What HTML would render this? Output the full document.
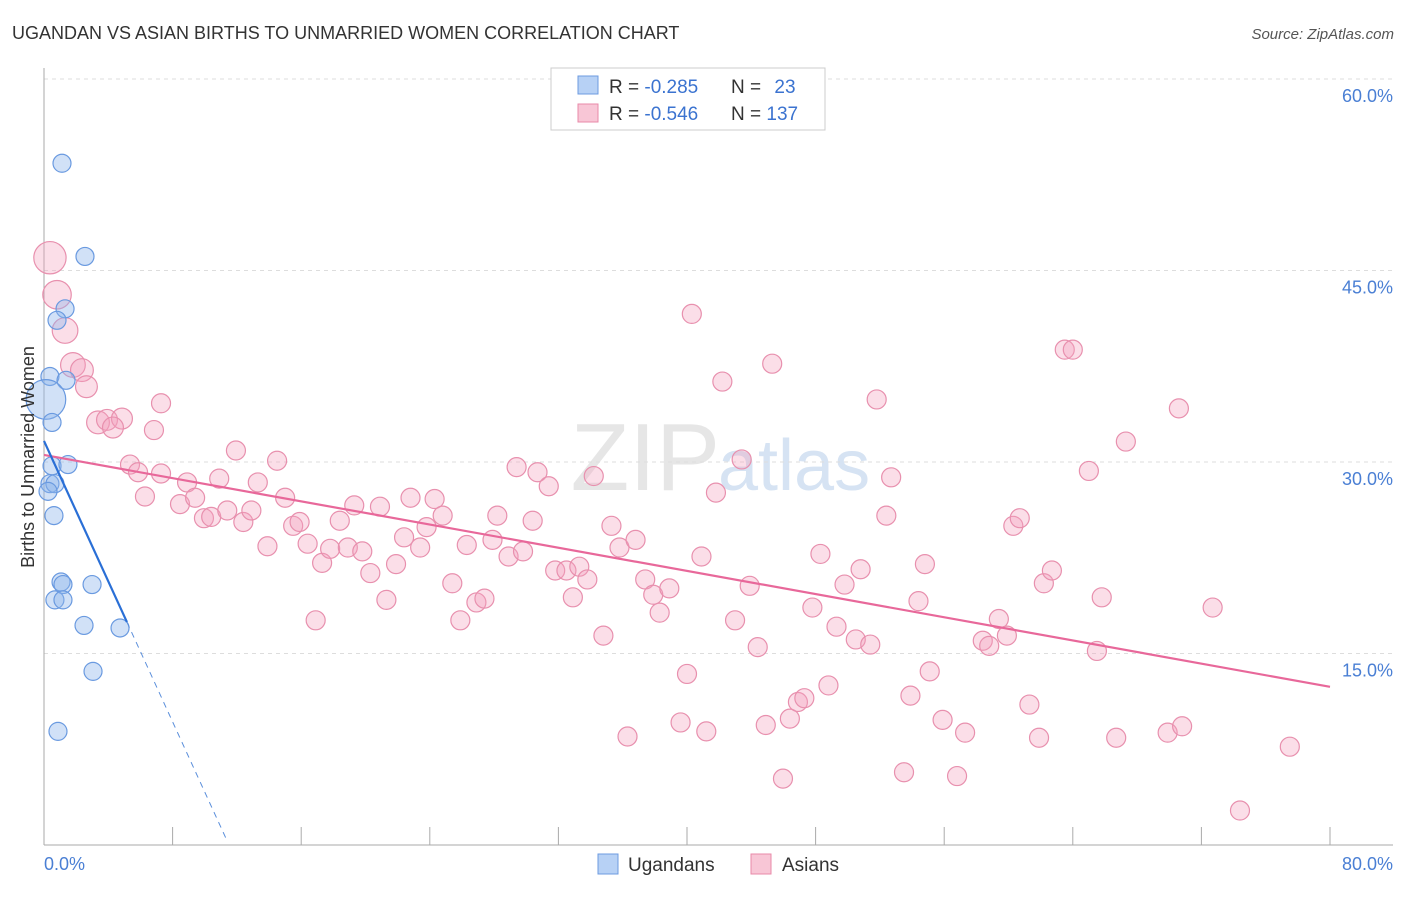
<!DOCTYPE html>
<html><head><meta charset="utf-8"><style>
body{margin:0;background:#fff;font-family:"Liberation Sans",sans-serif;}
svg text{font-family:"Liberation Sans",sans-serif;}
</style></head><body>
<svg id="chart" width="1406" height="892" viewBox="0 0 1406 892">
<text x="12" y="39" font-size="18" fill="#333">UGANDAN VS ASIAN BIRTHS TO UNMARRIED WOMEN CORRELATION CHART</text>
<text x="1394" y="39" font-size="15" fill="#555" font-style="italic" text-anchor="end">Source: ZipAtlas.com</text>
<text x="720" y="490" font-size="96" fill="#e6e6e6" text-anchor="end" font-family="Liberation Serif">ZIP</text>
<text x="718" y="490" font-size="72" fill="#d6e3f3">atlas</text>
<g id="grid"></g><g id="axes"></g><g id="pts"></g><g id="lines"></g>
<text transform="translate(34,457) rotate(-90)" font-size="18" fill="#333" text-anchor="middle">Births to Unmarried Women</text>
<text x="44" y="870" font-size="18" fill="#4a7fd4">0.0%</text>
<text x="1393" y="870" font-size="18" fill="#4a7fd4" text-anchor="end">80.0%</text>
<g>
<rect x="551" y="68" width="274" height="62" fill="#fff" stroke="#ccc"/>
<rect x="578" y="76" width="20" height="18" fill="#b7d1f5" stroke="#6c9be0"/>
<rect x="578" y="104" width="20" height="18" fill="#f8c6d6" stroke="#e88aa8"/>
<text x="609" y="93" font-size="19" fill="#333">R = <tspan fill="#3b73d0">-0.285</tspan></text>
<text x="731" y="93" font-size="19" fill="#333">N = <tspan fill="#3b73d0" dx="8">23</tspan></text>
<text x="609" y="120" font-size="19" fill="#333">R = <tspan fill="#3b73d0">-0.546</tspan></text>
<text x="731" y="120" font-size="19" fill="#333">N = <tspan fill="#3b73d0">137</tspan></text>
</g>
<g>
<rect x="598" y="854" width="20" height="20" fill="#b7d1f5" stroke="#6c9be0"/>
<text x="628" y="871" font-size="19" fill="#333">Ugandans</text>
<rect x="751" y="854" width="20" height="20" fill="#f8c6d6" stroke="#e88aa8"/>
<text x="782" y="871" font-size="19" fill="#333">Asians</text>
</g>
</svg>
<script>
const yTicks=[15,30,45,60];
const yTickLabels=["15.0%","30.0%","45.0%","60.0%"];
const xTicks=[8,16,24,32,40,48,56,64,72,80];
const ugX=[1.12,2.55,1.31,0.81,0.37,1.37,0.12,0.5,0.5,1.49,0.37,0.68,0.25,0.62,1.06,1.18,2.99,0.68,1.18,2.49,4.73,3.05,0.87];
const ugY=[53.4,46.1,42.0,41.1,36.7,36.4,34.9,33.1,29.7,29.8,28.3,28.3,27.7,25.8,20.6,20.4,20.4,19.2,19.2,17.2,17.0,13.6,8.9];
const ugR=[1,1,1,1,1,1,2,1,1,1,1,1,1,1,1,1,1,1,1,1,1,1,1];
const asX=[0.37,0.81,1.31,1.8,2.36,2.64,7.28,3.36,3.92,4.85,4.29,6.84,11.94,5.35,5.85,7.28,14.5,6.28,8.9,10.9,13.3,8.46,9.4,9.95,10.4,11.4,12.4,12.9,15.0,13.9,15.5,15.9,16.4,17.3,17.8,16.9,18.4,19.3,18.9,19.8,20.3,20.9,21.3,21.9,22.4,22.8,23.4,23.8,24.3,24.8,25.4,25.9,26.3,26.9,27.4,27.9,28.2,28.9,29.4,29.8,30.4,30.7,31.4,31.8,32.5,32.9,33.3,33.8,34.2,34.8,35.3,35.8,36.3,36.8,37.4,37.9,38.3,38.9,39.6,40.0,40.3,40.9,41.2,41.8,42.2,42.99,43.4,43.9,44.4,44.9,45.3,45.97,46.4,46.9,47.3,47.8,48.3,48.8,49.3,49.8,50.5,50.8,51.4,51.8,52.4,52.7,53.5,53.9,54.4,54.8,55.1,55.9,56.8,57.3,58.4,58.8,59.4,59.9,60.3,60.7,61.3,61.9,62.2,62.7,63.5,64.0,65.0,65.5,65.8,66.7,67.3,69.9,70.6,70.8,72.7,74.4,77.5];
const asY=[46.0,43.1,40.3,37.6,37.2,35.9,34.6,33.1,33.3,33.4,32.7,32.5,30.9,29.8,29.2,29.1,30.1,27.3,28.4,28.7,28.4,26.7,27.2,25.6,25.7,26.2,25.3,26.2,27.2,23.4,25.0,25.3,23.6,22.1,23.2,17.6,25.4,26.6,23.3,23.0,21.3,26.5,19.2,22.0,24.1,27.2,23.3,24.9,27.1,25.8,20.5,17.6,23.5,19.0,19.3,23.9,25.8,22.6,29.6,23.0,25.4,29.2,28.1,21.5,21.5,19.4,21.8,20.8,28.9,16.4,25.0,23.3,8.5,23.9,20.8,19.6,18.2,20.1,9.6,13.4,41.6,22.6,8.9,27.6,36.3,17.6,30.2,20.3,15.5,9.4,37.7,5.2,9.9,11.2,11.5,18.6,22.8,12.5,17.1,20.4,16.1,21.6,15.7,34.9,25.8,28.8,5.7,11.7,19.1,22.0,13.6,9.8,5.4,8.8,16.0,15.6,17.7,16.4,25.0,25.6,11.0,8.4,20.5,21.5,38.8,38.8,29.3,15.2,19.4,8.4,31.6,8.8,34.2,9.3,18.6,2.7,7.7];
const asBig=[1.7,1.5,1.35,1.3,1.2,1.15,1,1.2,1.1,1.1,1.1];
const ugTrend=[31.65,-2.75];
const asTrend=[30.55,-0.227];
const ugSolidEnd=5.16, ugDashEnd=11.3;

const NS="http://www.w3.org/2000/svg";
const X0=44,X1=1330,Y0=845,PXPER=191.5/15;
function sx(v){return X0+(v/80)*(X1-X0);}
function sy(v){return Y0-v*PXPER;}
function mk(p,tag,a){const e=document.createElementNS(NS,tag);for(const k in a)e.setAttribute(k,a[k]);p.appendChild(e);return e;}
const grid=document.getElementById('grid'),axes=document.getElementById('axes'),pts=document.getElementById('pts'),lines=document.getElementById('lines');
yTicks.forEach((t,i)=>{
 const l=mk(grid,'line',{x1:X0,x2:1393,y1:sy(t),y2:sy(t),stroke:'#ddd','stroke-dasharray':'4,4'});
 
 
 const tx=mk(grid,'text',{x:1393,y:sy(t)+23,'font-size':18,fill:'#4a7fd4','text-anchor':'end'});
 tx.textContent=yTickLabels[i];
 
 
});
const al=mk(axes,'line',{x1:X0,x2:X0,y1:68,y2:Y0,stroke:'#aaa'});


const bl=mk(axes,'line',{x1:X0,x2:1393,y1:Y0,y2:Y0,stroke:'#aaa'});


xTicks.forEach(t=>{
 const l=mk(axes,'line',{x1:sx(t),x2:sx(t),y1:Y0-18,y2:Y0,stroke:'#aaa'});
 
 
});
asX.forEach((x,i)=>{
 const c=mk(pts,'circle',{cx:sx(x),cy:sy(asY[i]),r:9.5*(asBig[i]||1),fill:'rgba(244,160,188,0.35)',stroke:'#e890ae','stroke-width':1.2});
 
 
});
ugX.forEach((x,i)=>{
 const c=mk(pts,'circle',{cx:sx(x),cy:sy(ugY[i]),r:9*ugR[i]*(ugR[i]>1?1.1:1),fill:'rgba(140,180,235,0.4)',stroke:'#6a9ae0','stroke-width':1.2});
 
 
});
const pl=mk(lines,'line',{x1:sx(0),y1:sy(asTrend[0]),x2:sx(80),y2:sy(asTrend[0]+asTrend[1]*80),stroke:'#e8689a','stroke-width':2.2});


const bs=mk(lines,'line',{x1:sx(0),y1:sy(ugTrend[0]),x2:sx(ugSolidEnd),y2:sy(ugTrend[0]+ugTrend[1]*ugSolidEnd),stroke:'#2a6fd6','stroke-width':2.2});


const bd=mk(lines,'line',{x1:sx(ugSolidEnd),y1:sy(ugTrend[0]+ugTrend[1]*ugSolidEnd),x2:sx(ugDashEnd),y2:sy(ugTrend[0]+ugTrend[1]*ugDashEnd),stroke:'#5b8fdb','stroke-width':1,'stroke-dasharray':'6,5'});


</script>
</body></html>
